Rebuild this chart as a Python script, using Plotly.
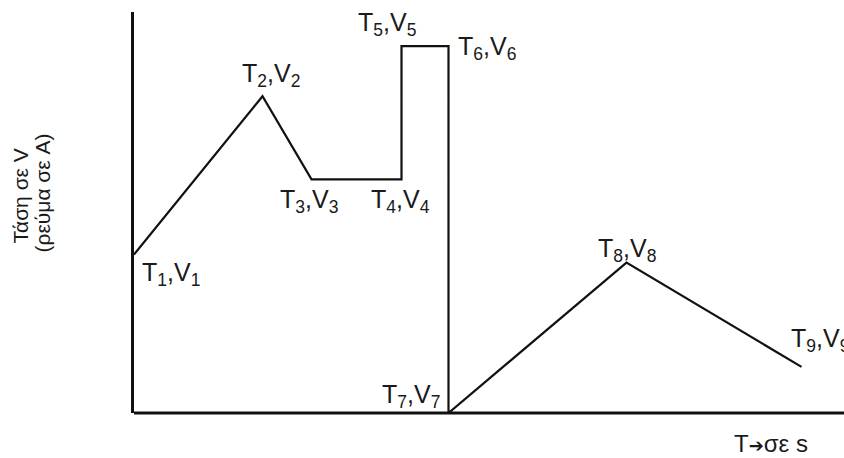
import plotly.graph_objects as go

# Data (time in arbitrary units, voltage in arbitrary units)
T = [0, 128.5, 177.5, 267.5, 267.5, 314.5, 314.5, 492.5, 667.5]
V = [158, 316, 233, 233, 366, 366, 0, 150, 46]
labels = ["T<sub>%d</sub>,V<sub>%d</sub>" % (i, i) for i in range(1, 10)]
# label offsets (pixels) relative to each point
label_dx = [37, 8, -3, -1, -15, 38, -38, 0, 18]
label_dy = [-19, 21, -22, -22, 22, -2, 17, 13, 27]

FONT = "Liberation Sans, Arial, sans-serif"
TXT = "#1a1a1a"

fig = go.Figure()
fig.add_trace(go.Scatter(x=T, y=V, mode="lines",
                         line=dict(color="#111111", width=2.2),
                         hoverinfo="skip", showlegend=False, cliponaxis=False))

annotations = []
for x, y, t, dx, dy in zip(T, V, labels, label_dx, label_dy):
    annotations.append(dict(x=x, y=y, xref="x", yref="y", text=t, showarrow=False,
                            xanchor="center", yanchor="middle", xshift=dx, yshift=dy,
                            font=dict(family=FONT, size=25, color=TXT)))

# Y axis title (two rotated lines)
annotations.append(dict(x=0, y=0.5, xref="paper", yref="paper", text="Τάση σε V",
                        textangle=-90, showarrow=False, xanchor="center", yanchor="middle",
                        xshift=-114, yshift=16, font=dict(family=FONT, size=21, color=TXT)))
annotations.append(dict(x=0, y=0.5, xref="paper", yref="paper", text="(ρεύμα σε A)",
                        textangle=-90, showarrow=False, xanchor="center", yanchor="middle",
                        xshift=-92, yshift=19, font=dict(family=FONT, size=21, color=TXT)))
# X axis title
annotations.append(dict(x=0.897, y=0, xref="paper", yref="paper",
                        text="T<span style='font-family:DejaVu Sans;font-size:18px'>➔</span>σε s",
                        showarrow=False, xanchor="center", yanchor="middle",
                        yshift=-30, font=dict(family=FONT, size=24, color=TXT)))

fig.update_layout(
    width=844, height=458,
    margin=dict(l=134, r=0, t=12, b=45),
    paper_bgcolor="white", plot_bgcolor="white",
    annotations=annotations,
    # horizontal axis line running all the way to the right edge of the page
    shapes=[dict(type="line", xref="paper", yref="paper", x0=0, x1=1.05, y0=0, y1=0,
                 line=dict(color="#111111", width=3), layer="above")],
    xaxis=dict(range=[0, 710], showgrid=False, zeroline=False, showticklabels=False,
               ticks="", showline=False),
    yaxis=dict(range=[0, 400], showgrid=False, zeroline=False, showticklabels=False,
               ticks="", showline=True, linecolor="#111111", linewidth=2.5),
)

# remove the default page margin so the figure fills the window exactly
fig.write_html("out.html", config={"displayModeBar": False},
               post_script="document.body.style.margin='0';document.body.style.overflow='hidden';")
